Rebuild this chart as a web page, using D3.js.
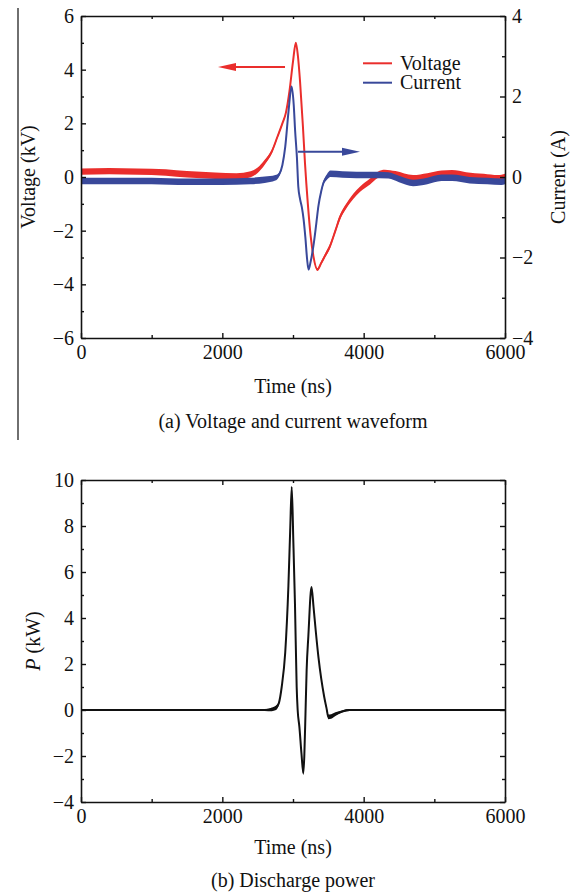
<!DOCTYPE html>
<html>
<head>
<meta charset="utf-8">
<script src="https://cdn.jsdelivr.net/npm/d3@7"></script>
<style>
  html, body { margin: 0; padding: 0; background: #fff; }
  svg { display: block; }
  text { font-family: "Liberation Serif", "Times New Roman", serif; fill: #111; }
</style>
</head>
<body>
<svg id="chart" width="575" height="892"></svg>
<script>
// ---------------- DATA ----------------
// [time (ns), value, noise spread (same unit as value)]
const voltage = [
  [0,0.20,0.12],[400,0.22,0.12],[800,0.20,0.12],[1200,0.17,0.12],[1500,0.10,0.12],
  [1900,0.05,0.12],[2200,0.02,0.12],[2400,0.10,0.11],[2500,0.25,0.10],[2600,0.55,0.09],
  [2700,0.95,0.07],[2780,1.50,0.06],[2850,2.00,0.05],[2900,2.40,0.04],[2950,3.20,0.03],
  [3000,4.30,0.03],[3040,5.00,0.02],[3070,4.50,0.02],[3100,3.55,0.02],[3140,1.90,0.02],
  [3170,0.50,0.02],[3210,-1.00,0.02],[3250,-2.20,0.03],[3290,-2.97,0.04],[3345,-3.45,0.05],
  [3400,-3.20,0.06],[3450,-2.95,0.07],[3520,-2.60,0.08],[3600,-2.00,0.08],[3665,-1.50,0.09],
  [3750,-1.10,0.09],[3850,-0.73,0.10],[3950,-0.45,0.10],[4090,-0.17,0.11],[4200,0.08,0.12],
  [4300,0.15,0.12],[4450,0.10,0.12],[4700,-0.05,0.12],[4900,0.02,0.12],[5100,0.12,0.12],
  [5250,0.14,0.12],[5450,0.06,0.12],[5700,0.00,0.12],[5900,-0.05,0.12],[6000,0.00,0.12]
];
const current = [
  [0,-0.10,0.08],[500,-0.10,0.08],[1000,-0.10,0.08],[1500,-0.12,0.08],[2000,-0.12,0.08],
  [2400,-0.10,0.08],[2600,-0.07,0.08],[2750,-0.02,0.07],[2800,0.05,0.05],[2850,0.30,0.03],
  [2890,0.75,0.02],[2935,1.60,0.02],[2980,2.25,0.02],[3010,1.80,0.02],[3030,1.15,0.02],
  [3055,0.50,0.02],[3075,-0.24,0.02],[3100,-0.55,0.02],[3125,-0.75,0.02],[3150,-1.05,0.02],
  [3175,-1.50,0.02],[3200,-2.05,0.02],[3220,-2.30,0.02],[3250,-2.10,0.02],[3290,-1.70,0.02],
  [3330,-1.15,0.02],[3360,-0.72,0.03],[3400,-0.35,0.04],[3430,-0.15,0.05],[3480,0.00,0.07],
  [3530,0.08,0.08],[3700,0.06,0.08],[3900,0.05,0.08],[4100,0.05,0.08],[4350,0.04,0.08],
  [4500,-0.05,0.08],[4700,-0.15,0.08],[4900,-0.10,0.08],[5100,-0.02,0.08],[5250,-0.02,0.08],
  [5500,-0.08,0.08],[5750,-0.10,0.08],[5950,-0.12,0.08],[6000,-0.10,0.08]
];
const power = [
  [0,0,0.03],[1000,0,0.03],[2000,0,0.03],[2600,0,0.04],[2700,0.03,0.08],[2760,0.10,0.10],
  [2800,0.30,0.06],[2840,1.00,0.03],[2890,2.50,0.02],[2935,5.40,0.02],[2960,7.80,0.02],
  [2982,9.70,0.02],[3005,7.30,0.02],[3028,4.60,0.02],[3052,1.00,0.02],[3066,0.00,0.03],
  [3090,-0.72,0.04],[3120,-1.90,0.06],[3146,-2.75,0.08],[3160,-2.00,0.06],[3178,0.00,0.03],
  [3193,1.74,0.02],[3217,3.20,0.02],[3262,5.35,0.02],[3290,4.50,0.02],[3320,3.50,0.03],
  [3360,2.30,0.04],[3400,1.35,0.05],[3440,0.60,0.06],[3476,0.05,0.08],[3500,-0.30,0.10],
  [3540,-0.28,0.10],[3600,-0.18,0.08],[3700,-0.06,0.05],[3800,0.00,0.04],[4500,0.00,0.03],
  [6000,0.00,0.03]
];

const timeTicks = [0, 2000, 4000, 6000];
const timeMinor = [1000, 3000, 5000];
const voltTicks = [-6, -4, -2, 0, 2, 4, 6];
const voltMinor = [-5, -3, -1, 1, 3, 5];
const currTicks = [-4, -2, 0, 2, 4];
const currMinor = [-3, -1, 1, 3];
const powTicks = [-4, -2, 0, 2, 4, 6, 8, 10];
const powMinor = [-3, -1, 1, 3, 5, 7, 9];

const legendNames = ["Voltage", "Current"];
const xTitle = "Time (ns)";
const captionA = "(a) Voltage and current waveform";
const captionB = "(b) Discharge power";

// ---------------- DRAWING ----------------
const RED = "#ea2e2c", BLUE = "#39489a", FS = 20;
const svg = d3.select("#chart");
const fmt = d3.format("d");

// stray page border line at the left of panel (a)
svg.append("line").attr("x1", 18).attr("x2", 18).attr("y1", 8).attr("y2", 440)
  .attr("stroke", "#333").attr("stroke-width", 1.4);

const X0 = 81, X1 = 505;
const xA = d3.scaleLinear().domain([0, 6000]).range([X0, X1]);
const yV = d3.scaleLinear().domain([-6, 6]).range([338, 16]);
const yI = d3.scaleLinear().domain([-4, 4]).range([338, 16]);
const xB = d3.scaleLinear().domain([0, 6000]).range([X0, X1]);
const yP = d3.scaleLinear().domain([-4, 10]).range([802, 480]);

function styleAxis(g) {
  g.selectAll("path.domain").attr("stroke", "#111").attr("stroke-width", 1.6);
  g.selectAll(".tick line").attr("stroke", "#111").attr("stroke-width", 1.4);
  g.selectAll("text").attr("font-size", FS).attr("font-family", '"Liberation Serif","Times New Roman",serif').attr("fill", "#111");
}

function frame(x, y, yTicks, yMinor, labelsRight, yRight, rTicks, rMinor) {
  const [yb, yt] = y.range();
  // bottom
  const gb = svg.append("g").attr("transform", `translate(0,${yb})`);
  gb.call(d3.axisBottom(x).tickValues(timeTicks).tickFormat(fmt).tickSize(-5).tickSizeOuter(0).tickPadding(7));
  gb.append("g").call(d3.axisBottom(x).tickValues(timeMinor).tickFormat("").tickSize(-3).tickSizeOuter(0))
    .select("path.domain").remove();
  styleAxis(gb);
  // top
  const gt = svg.append("g").attr("transform", `translate(0,${yt})`);
  gt.call(d3.axisTop(x).tickValues(timeTicks).tickFormat("").tickSize(-5).tickSizeOuter(0));
  gt.append("g").call(d3.axisTop(x).tickValues(timeMinor).tickFormat("").tickSize(-3).tickSizeOuter(0))
    .select("path.domain").remove();
  styleAxis(gt);
  // left
  const gl = svg.append("g").attr("transform", `translate(${x.range()[0]},0)`);
  gl.call(d3.axisLeft(y).tickValues(yTicks).tickFormat(fmt).tickSize(-5).tickSizeOuter(0).tickPadding(7));
  gl.append("g").call(d3.axisLeft(y).tickValues(yMinor).tickFormat("").tickSize(-3).tickSizeOuter(0))
    .select("path.domain").remove();
  styleAxis(gl);
  // right
  const gr = svg.append("g").attr("transform", `translate(${x.range()[1]},0)`);
  const ry = yRight || y;
  gr.call(d3.axisRight(ry).tickValues(rTicks || yTicks).tickFormat(labelsRight ? fmt : "").tickSize(-5).tickSizeOuter(0).tickPadding(7));
  gr.append("g").call(d3.axisRight(ry).tickValues(rMinor || yMinor).tickFormat("").tickSize(-3).tickSizeOuter(0))
    .select("path.domain").remove();
  styleAxis(gr);
}

function trace(data, x, y, color, width) {
  const area = d3.area().curve(d3.curveMonotoneX)
    .x(d => x(d[0])).y0(d => y(d[1] - d[2])).y1(d => y(d[1] + d[2]));
  const line = d3.line().curve(d3.curveMonotoneX).x(d => x(d[0])).y(d => y(d[1]));
  svg.append("path").datum(data).attr("d", area).attr("fill", color).attr("stroke", "none");
  svg.append("path").datum(data).attr("d", line).attr("fill", "none")
    .attr("stroke", color).attr("stroke-width", width).attr("stroke-linejoin", "round");
}

function arrow(x1, x2, y, color) {
  const dir = Math.sign(x2 - x1);
  const L = 18, hw = 4;
  svg.append("line").attr("x1", x1).attr("x2", x2 - dir * (L - 2)).attr("y1", y).attr("y2", y)
    .attr("stroke", color).attr("stroke-width", 2);
  svg.append("path")
    .attr("d", `M${x2},${y} L${x2 - dir * L},${y - hw} L${x2 - dir * L},${y + hw} Z`)
    .attr("fill", color);
}

// ---- Panel (a) ----
trace(voltage, xA, yV, RED, 2);
trace(current, xA, yI, BLUE, 2);
frame(xA, yV, voltTicks, voltMinor, true, yI, currTicks, currMinor);

// arrows (in data coordinates)
arrow(xA(2887), xA(1939), yV(4.1), RED);
arrow(xA(3071), xA(3948), yI(0.63), BLUE);

// legend
const legColors = [RED, BLUE];
legendNames.forEach((n, i) => {
  const yy = 63.3 + i * 19.4;
  svg.append("line").attr("x1", 363).attr("x2", 392).attr("y1", yy).attr("y2", yy)
    .attr("stroke", legColors[i]).attr("stroke-width", 2);
  svg.append("text").attr("x", 400).attr("y", yy + 6.5).attr("font-size", FS).text(n);
});

svg.append("text").attr("x", 293).attr("y", 393).attr("text-anchor", "middle").attr("font-size", FS).text(xTitle);
svg.append("text").attr("x", 293).attr("y", 428).attr("text-anchor", "middle").attr("font-size", FS).text(captionA);
svg.append("text").attr("transform", `translate(35,${yV(0)}) rotate(-90)`).attr("text-anchor", "middle")
  .attr("font-size", FS).text("Voltage (kV)");
svg.append("text").attr("transform", `translate(565,${yI(0)}) rotate(-90)`).attr("text-anchor", "middle")
  .attr("font-size", FS).text("Current (A)");

// ---- Panel (b) ----
trace(power, xB, yP, "#111", 2);
frame(xB, yP, powTicks, powMinor, false, null, powTicks, powMinor);

svg.append("text").attr("x", 293).attr("y", 854).attr("text-anchor", "middle").attr("font-size", FS).text(xTitle);
svg.append("text").attr("x", 293).attr("y", 887).attr("text-anchor", "middle").attr("font-size", FS).text(captionB);
const pl = svg.append("text").attr("transform", `translate(40,${(yP.range()[0] + yP.range()[1]) / 2}) rotate(-90)`)
  .attr("text-anchor", "middle").attr("font-size", FS);
pl.append("tspan").attr("font-style", "italic").text("P");
pl.append("tspan").text(" (kW)");
</script>
</body>
</html>
